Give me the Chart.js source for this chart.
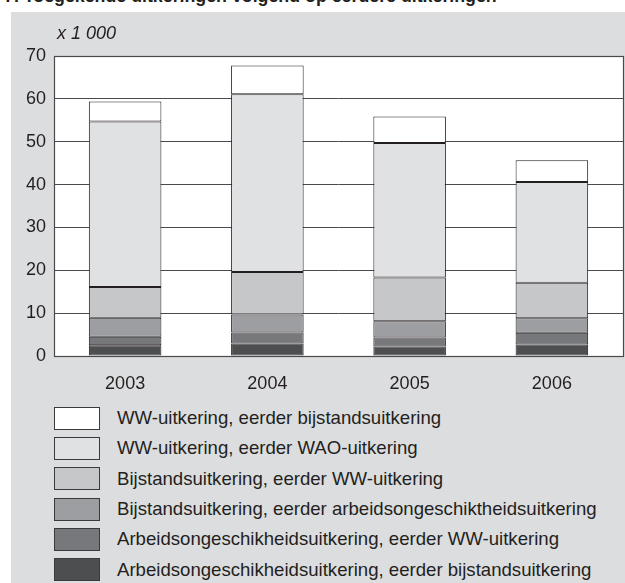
<!DOCTYPE html>
<html lang="nl">
<head>
<meta charset="UTF-8" />
<title>Toegekende uitkeringen</title>
<script src="https://cdn.jsdelivr.net/npm/chart.js"></script>
<style>
    * { box-sizing: border-box; font-family: 'Liberation Sans', Arial, sans-serif; }
    body { margin: 0; background: #fff; width: 625px; height: 583px; overflow: hidden; position: relative; }
    .title { position: absolute; left: 4px; top: -14px; font-size: 17.8px; font-weight: bold; color: #231f20; white-space: nowrap; }
    .panel { position: absolute; left: 11px; top: 12px; width: 614px; height: 571px; background: #dcdddf; }
    .unit { position: absolute; left: 46px; top: 11px; font-size: 18px; font-style: italic; color: #231f20; }
    .chart-box { position: absolute; left: 0; top: 0; width: 614px; height: 390px; }
    .legend { position: absolute; left: 43px; top: 391px; }
    .legend .item { display: flex; align-items: center; height: 30.3px; }
    .legend .box { width: 46px; height: 23px; border: 1px solid #3a3a3c; margin-right: 17px; }
    .legend .label { font-size: 18.6px; color: #231f20; }
</style>
</head>
<body>
    <div class="title">7. Toegekende uitkeringen volgend op eerdere uitkeringen</div>
    <div class="panel">
        <div class="chart-box"><canvas id="chart"></canvas></div>
        <div class="unit">x 1 000</div>
        <div class="legend" id="legend"></div>
    </div>

<script>
    // jaren
    const jaren = ['2003', '2004', '2005', '2006'];

    // series, van onder naar boven gestapeld (x 1 000)
    const arbBijstand = [2.5, 2.9, 2.2, 2.7];
    const arbWW = [2.0, 2.6, 2.1, 2.7];
    const bijstArb = [4.4, 4.2, 3.8, 3.4];
    const bijstWW = [7.2, 9.9, 10.2, 8.3];
    const wwWAO = [38.6, 41.5, 31.4, 23.5];
    const wwBijstand = [4.7, 6.7, 6.2, 5.1];

    const namen = [
        'Arbeidsongeschikheidsuitkering, eerder bijstandsuitkering',
        'Arbeidsongeschikheidsuitkering, eerder WW-uitkering',
        'Bijstandsuitkering, eerder arbeidsongeschiktheidsuitkering',
        'Bijstandsuitkering, eerder WW-uitkering',
        'WW-uitkering, eerder WAO-uitkering',
        'WW-uitkering, eerder bijstandsuitkering'
    ];
    const kleuren = ['#4d4e50', '#77787b', '#9d9ea1', '#c6c7c9', '#e0e1e3', '#ffffff'];
    const reeksen = [arbBijstand, arbWW, bijstArb, bijstWW, wwWAO, wwBijstand];

    const yTicks = [0, 10, 20, 30, 40, 50, 60, 70];

    const datasets = reeksen.map((d, i) => ({
        label: namen[i],
        data: d,
        backgroundColor: kleuren[i],
        borderColor: '#231f20',
        borderWidth: 1,
        borderSkipped: false,
        categoryPercentage: 1,
        barPercentage: 0.51
    }));

    // rand om het plotgebied
    const frame = {
        id: 'frame',
        afterDatasetsDraw(chart) {
            const a = chart.chartArea;
            const ctx = chart.ctx;
            ctx.save();
            ctx.strokeStyle = '#4a4a4c';
            ctx.lineWidth = 1.2;
            ctx.strokeRect(a.left + 0.5, a.top + 0.5, a.right - a.left, a.bottom - a.top);
            ctx.restore();
        },
        beforeDraw(chart) {
            const a = chart.chartArea;
            const ctx = chart.ctx;
            ctx.save();
            ctx.fillStyle = '#fff';
            ctx.fillRect(a.left, a.top, a.right - a.left, a.bottom - a.top);
            ctx.restore();
        }
    };

    new Chart(document.getElementById('chart'), {
        type: 'bar',
        data: { labels: jaren, datasets: datasets },
        plugins: [frame],
        options: {
            responsive: true,
            maintainAspectRatio: false,
            animation: false,
            layout: { padding: { top: 44, right: 2, left: 0, bottom: 0 } },
            plugins: {
                legend: { display: false },
                tooltip: { enabled: false }
            },
            scales: {
                x: {
                    stacked: true,
                    grid: { display: false },
                    border: { display: false },
                    ticks: { color: '#231f20', font: { size: 18, family: 'Liberation Sans' }, padding: 9 },
                    afterFit(scale) { scale.height = 46; }
                },
                y: {
                    stacked: true,
                    min: 0,
                    max: 70,
                    afterBuildTicks(scale) { scale.ticks = yTicks.map(v => ({ value: v })); },
                    grid: { color: '#4a4a4c', lineWidth: 1, drawTicks: false },
                    border: { display: false },
                    ticks: { color: '#231f20', font: { size: 18, family: 'Liberation Sans' }, padding: 8 },
                    afterFit(scale) { scale.width = 43; }
                }
            }
        }
    });

    // legenda, bovenste reeks eerst
    const legend = document.getElementById('legend');
    for (let i = namen.length - 1; i >= 0; i--) {
        const item = document.createElement('div');
        item.className = 'item';
        item.innerHTML = '<div class="box" style="background:' + kleuren[i] + '"></div><div class="label">' + namen[i] + '</div>';
        legend.appendChild(item);
    }
</script>
</body>
</html>
